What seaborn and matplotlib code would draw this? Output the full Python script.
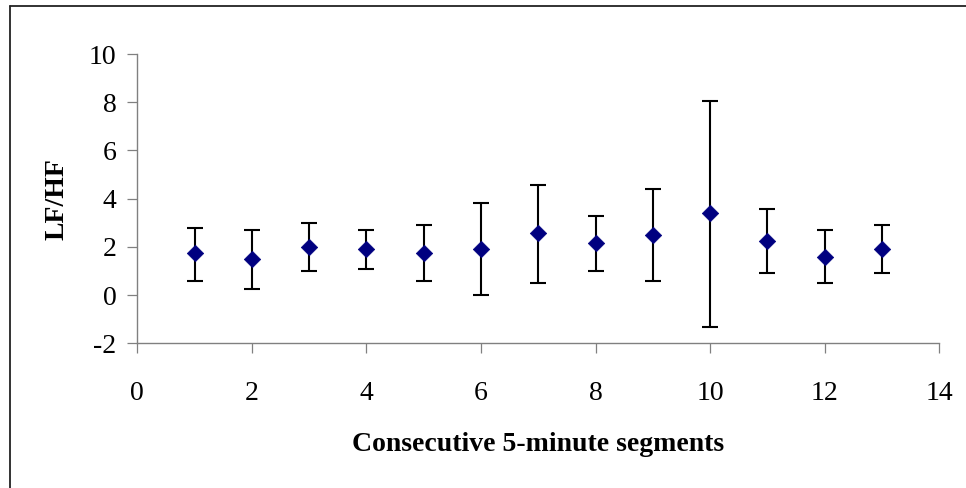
import matplotlib
matplotlib.use("Agg")
import matplotlib.pyplot as plt
import numpy as np
import pandas as pd
import seaborn as sns
from matplotlib.lines import Line2D

# ---- data ----
segments = [1, 2, 3, 4, 5, 6, 7, 8, 9, 10, 11, 12, 13]
mean_lfhf = [1.73, 1.49, 1.99, 1.91, 1.73, 1.91, 2.57, 2.14, 2.49, 3.40, 2.24, 1.57, 1.91]
upper_lfhf = [2.80, 2.72, 2.98, 2.72, 2.89, 3.81, 4.56, 3.30, 4.38, 8.04, 3.55, 2.72, 2.89]
lower_lfhf = [0.57, 0.24, 0.99, 1.08, 0.57, 0.00, 0.50, 0.99, 0.57, -1.33, 0.91, 0.50, 0.91]
x_ticks = [0, 2, 4, 6, 8, 10, 12, 14]
y_ticks = [-2, 0, 2, 4, 6, 8, 10]
x_label = "Consecutive 5-minute segments"
y_label = "LF/HF"

df = pd.DataFrame({"segment": segments, "mean": mean_lfhf,
                   "upper": upper_lfhf, "lower": lower_lfhf})

sns.set_style("ticks")
plt.rcParams["font.family"] = ["Liberation Serif", "DejaVu Serif"]
plt.rcParams["text.color"] = "black"
plt.rcParams["axes.labelcolor"] = "black"

W, H = 966, 488
fig = plt.figure(figsize=(W / 100, H / 100), dpi=100)
ax = fig.add_axes([137.3 / W, 1 - 343.3 / H, (939.3 - 137.3) / W, (343.3 - 54) / H])

yerr = np.vstack([df["mean"] - df["lower"], df["upper"] - df["mean"]])
ax.errorbar(df["segment"], df["mean"], yerr=yerr, fmt="none",
            ecolor="black", elinewidth=1.5, capsize=5.5, capthick=1.5, zorder=2)
sns.scatterplot(data=df, x="segment", y="mean", marker="D", s=70,
                color="#000080", edgecolor="#000080", linewidth=0.5, ax=ax, zorder=3)

ax.set_xlim(0, 14)
ax.set_ylim(-2, 10)
ax.set_xticks(x_ticks)
ax.set_yticks(y_ticks)
ax.set_xticklabels([str(v) for v in x_ticks])
ax.set_yticklabels([str(v) for v in y_ticks])

for side in ["top", "right"]:
    ax.spines[side].set_visible(False)
for side in ["left", "bottom"]:
    ax.spines[side].set_color("#808080")
    ax.spines[side].set_linewidth(1.0)

ax.tick_params(axis="both", direction="out", length=7, width=0.9,
               color="#808080", labelsize=20, labelcolor="black")
ax.tick_params(axis="x", pad=20)
ax.tick_params(axis="y", pad=8)

ax.set_xlabel(x_label, fontsize=20, fontweight="bold", labelpad=19, color="black")
ax.set_ylabel(y_label, fontsize=20, fontweight="bold", labelpad=14, color="black")

# outer chart-area border (left and top visible)
fig.add_artist(Line2D([10 / W, 10 / W], [1 - 6 / H, -0.05], transform=fig.transFigure,
                      color="#222222", linewidth=1.3))
fig.add_artist(Line2D([10 / W, 1.05], [1 - 6 / H, 1 - 6 / H], transform=fig.transFigure,
                      color="#222222", linewidth=1.3))

fig.savefig("out.png", dpi=100)
